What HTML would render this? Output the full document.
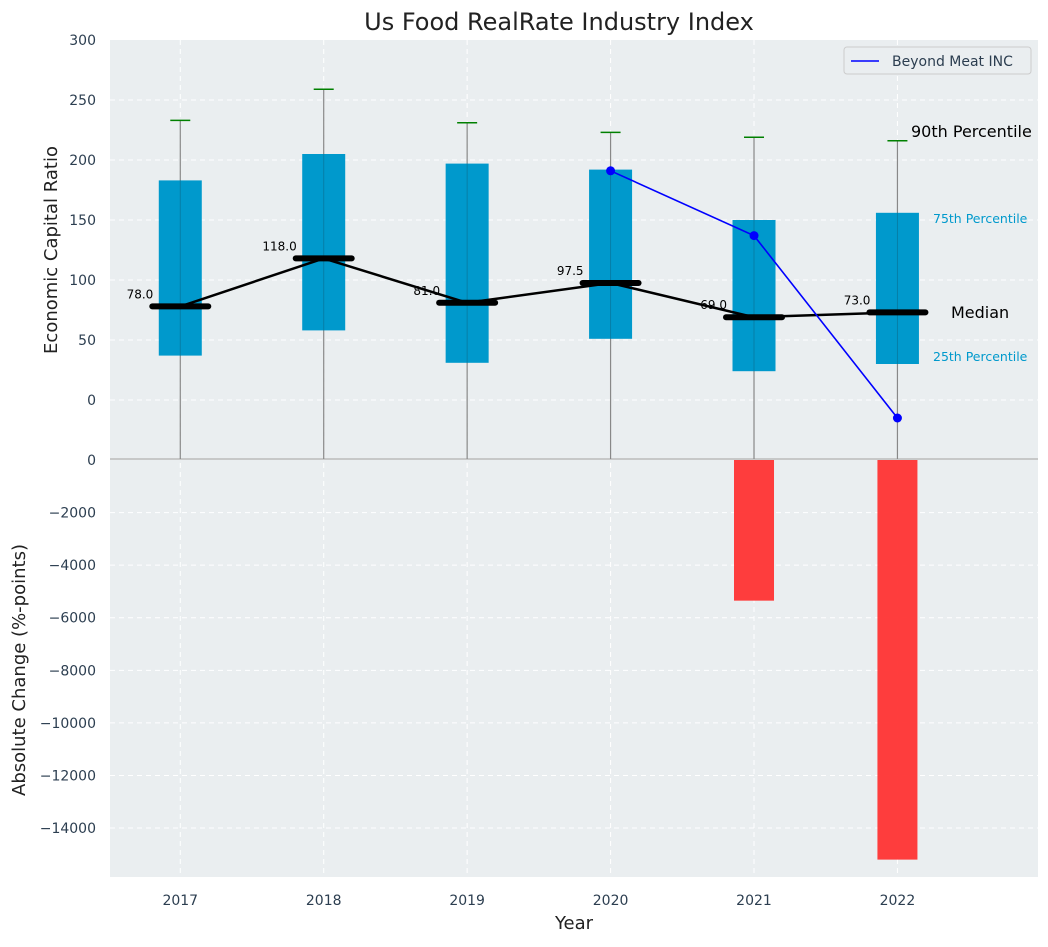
<!DOCTYPE html>
<html><head><meta charset="utf-8"><style>
body{margin:0;background:#fff;}
svg{font-family:"DejaVu Sans","Liberation Sans",sans-serif;}
</style></head><body>
<svg id="chart" width="1048" height="942" xmlns="http://www.w3.org/2000/svg"></svg>
<script>
const years=[2017,2018,2019,2020,2021,2022];
const q1=[37,58,31,51,24,30];
const q3=[183,205,197,192,150,156];
const medians=[78,118,81,97.5,69,73];
const p90=[233,259,231,223,219,216];
const bmYears=[2020,2021,2022];
const bmValues=[191,137,-15];
const changeYears=[2021,2022];
const changeValues=[-5350,-15200];
const topTicks=[0,50,100,150,200,250,300];
const botTicks=[0,-2000,-4000,-6000,-8000,-10000,-12000,-14000];

const NS="http://www.w3.org/2000/svg";
const svg=document.getElementById('chart');
const L=110,R=1038,T1=40,B1=459,T2=459,B2=877;
const xMin=2016.51,xMax=2022.98;
const x=v=>L+(v-xMin)/(xMax-xMin)*(R-L);
const y1=v=>400-(v)*1.2;
const y2=v=>460-v*(-0.02629)*-1;
function el(tag,attrs,parent,text){const e=document.createElementNS(NS,tag);for(const k in attrs)e.setAttribute(k,attrs[k]);if(text!==undefined)e.textContent=text;(parent||svg).appendChild(e);return e;}

const bg1=el('rect',{x:L,y:T1,width:R-L,height:B1-T1,fill:'#eaeef0'});

const bg2=el('rect',{x:L,y:T2,width:R-L,height:B2-T2,fill:'#eaeef0'});


topTicks.forEach(t=>{const yy=y1(t);if(yy>T1&&yy<B1)el('line',{x1:L,x2:R,y1:yy,y2:yy,stroke:'#fff','stroke-dasharray':'5,4','stroke-width':1});
 const tl=el('text',{x:L-14,y:yy+5,'text-anchor':'end','font-size':14,fill:'#2c3e50'},null,t);
 });
botTicks.forEach(t=>{const yy=y2(t);if(t!==0)el('line',{x1:L,x2:R,y1:yy,y2:yy,stroke:'#fff','stroke-dasharray':'5,4','stroke-width':1});
 const tl=el('text',{x:L-14,y:yy+5,'text-anchor':'end','font-size':14,fill:'#2c3e50'},null,t===0?'0':'\u2212'+Math.abs(t));
 });
years.forEach(yr=>{el('line',{x1:x(yr),x2:x(yr),y1:T1,y2:B2,stroke:'#fff','stroke-dasharray':'5,4','stroke-width':1});
 const tl=el('text',{x:x(yr),y:905,'text-anchor':'middle','font-size':14,fill:'#2c3e50'},null,yr);
 });
el('line',{x1:L,x2:R,y1:B1,y2:B1,stroke:'#bbb','stroke-width':1.5});

years.forEach((yr,i)=>{const cx=x(yr);
 const w=el('line',{x1:cx,x2:cx,y1:y1(p90[i]),y2:B1,stroke:'#888','stroke-width':1.2});
 
 const c=el('line',{x1:cx-10,x2:cx+10,y1:y1(p90[i]),y2:y1(p90[i]),stroke:'green','stroke-width':1.5});
 });
years.forEach((yr,i)=>{const cx=x(yr);
 const b=el('rect',{x:cx-21.5,y:y1(q3[i]),width:43,height:y1(q1[i])-y1(q3[i]),fill:'#0099cc'});
 
 el('line',{x1:cx,x2:cx,y1:y1(q3[i]),y2:y1(q1[i]),stroke:'#0a6d8f','stroke-width':1,opacity:0.6});});
const mp=el('polyline',{points:years.map((yr,i)=>x(yr)+','+y1(medians[i])).join(' '),fill:'none',stroke:'#000','stroke-width':2.5});

years.forEach((yr,i)=>{const cx=x(yr);
 const m=el('line',{x1:cx-28,x2:cx+28,y1:y1(medians[i]),y2:y1(medians[i]),stroke:'#000','stroke-width':6,'stroke-linecap':'round'});
 
 const t=el('text',{x:cx-27,y:y1(medians[i])-8,'text-anchor':'end','font-size':12,fill:'#000'},null,medians[i].toFixed(1));
 });
const bl=el('polyline',{points:bmYears.map((yr,i)=>x(yr)+','+y1(bmValues[i])).join(' '),fill:'none',stroke:'blue','stroke-width':1.6});

bmYears.forEach((yr,i)=>{const p=el('circle',{cx:x(yr),cy:y1(bmValues[i]),r:4.5,fill:'blue'});
 });
changeYears.forEach((yr,i)=>{const r=el('rect',{x:x(yr)-20,y:y2(0),width:40,height:y2(changeValues[i])-y2(0),fill:'#ff3333',opacity:0.95});
 });

[['90th Percentile',911,137,16,'#000','label-90th'],['75th Percentile',933,223,12.5,'#0099cc','label-75th'],['Median',951,318,16,'#000','label-median'],['25th Percentile',933,361,12.5,'#0099cc','label-25th']].forEach(a=>{
 const t=el('text',{x:a[1],y:a[2],'font-size':a[3],fill:a[4]},null,a[0]);});
const lg=el('g',{});
el('rect',{x:844,y:47,width:187,height:27,fill:'#eaeef0',stroke:'#ccc',rx:3},lg);
el('line',{x1:851,x2:879,y1:61,y2:61,stroke:'blue','stroke-width':1.6},lg);
el('text',{x:892,y:66,'font-size':14,fill:'#2c3e50'},lg,'Beyond Meat INC');
const tt=el('text',{x:559,y:30,'text-anchor':'middle','font-size':24,fill:'#222'},null,'Us Food RealRate Industry Index');

const xt=el('text',{x:574,y:929,'text-anchor':'middle','font-size':18,fill:'#222'},null,'Year');

const yt=el('text',{x:0,y:0,'text-anchor':'middle','font-size':18,fill:'#222',transform:'translate(57,250) rotate(-90)'},null,'Economic Capital Ratio');

const y2t=el('text',{x:0,y:0,'text-anchor':'middle','font-size':18,fill:'#222',transform:'translate(25,670) rotate(-90)'},null,'Absolute Change (%-points)');

</script>
</body></html>
